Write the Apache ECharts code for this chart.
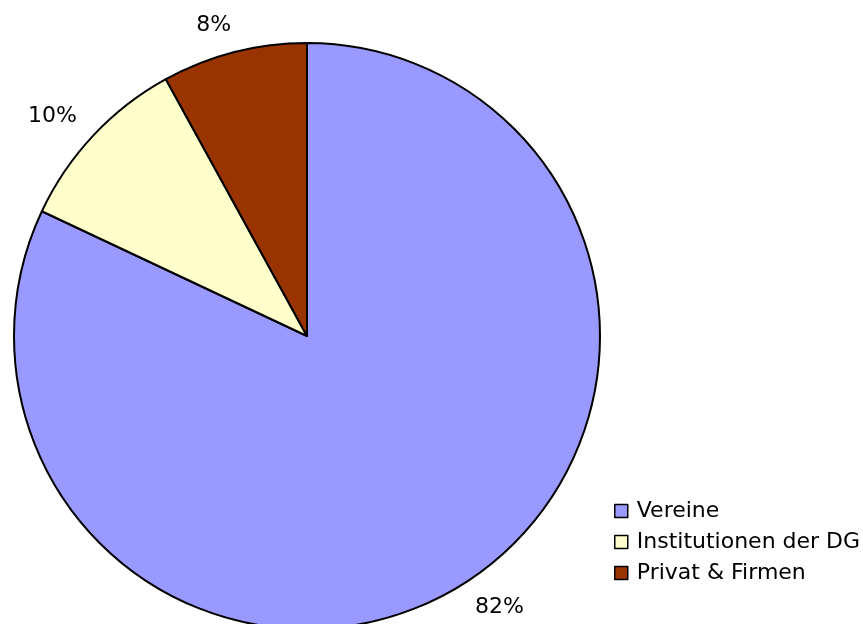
<!DOCTYPE html>
<html>
<head>
<meta charset="utf-8">
<script src="https://cdn.jsdelivr.net/npm/echarts@6/dist/echarts.min.js"></script>
<style>
html, body { margin:0; padding:0; background:#fff; }
#chart { width:863px; height:624px; }
</style>
</head>
<body>
<div id="chart"></div>
<script>
var categories = ['Vereine', 'Institutionen der DG', 'Privat & Firmen'];
var values = [82, 10, 8];
var colors = ['#9999FF', '#FFFFCC', '#993300'];

var mychart = echarts.init(document.getElementById('chart'));
var pieData = [];
for (var i = 0; i < categories.length; i++) {
	pieData.push({ name: categories[i], value: values[i], itemStyle: { color: colors[i] } });
}
var option = {
	animation: false,
	textStyle: { fontFamily: 'DejaVu Sans' },
	legend: {
		orient: 'vertical',
		left: 609,
		top: 495,
		icon: 'rect',
		itemWidth: 13,
		itemHeight: 13,
		itemGap: 9,
		itemStyle: { borderColor: '#000', borderWidth: 1.5 },
		textStyle: { fontFamily: 'DejaVu Sans', fontSize: 22, color: '#000', padding: [0, 0, 0, 4] },
		data: categories
	},
	series: [{
		type: 'pie',
		center: [307, 336],
		radius: 293,
		startAngle: 90,
		clockwise: true,
		itemStyle: { borderColor: '#000', borderWidth: 2 },
		label: {
			show: true,
			position: 'outside',
			formatter: '{c}%',
			fontFamily: 'DejaVu Sans',
			fontSize: 22,
			color: '#000',
			distanceToLabelLine: -4
		},
		labelLine: { show: false, length: 28, length2: 0 },
		emphasis: { disabled: true },
		data: pieData
	}]
};
mychart.setOption(option, true);
</script>
</body>
</html>
